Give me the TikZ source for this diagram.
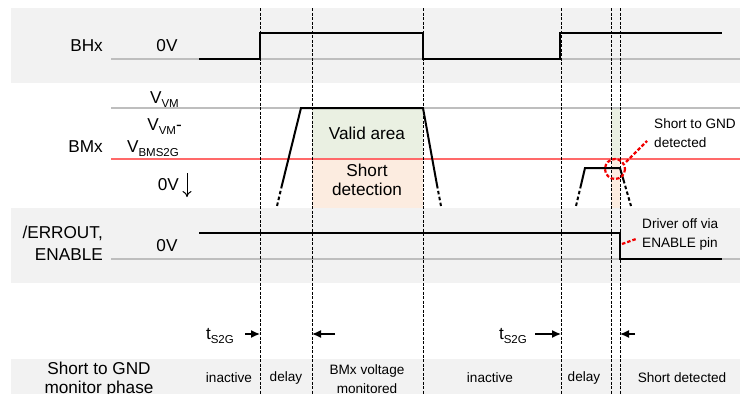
\documentclass[tikz,border=0pt]{standalone}
\usepackage{fontspec}
\setmainfont{Liberation Sans}
\usetikzlibrary{arrows.meta}
\definecolor{band}{RGB}{242,242,242}
\definecolor{gline}{RGB}{190,190,190}
\definecolor{rline}{RGB}{255,105,105}
\definecolor{validfill}{RGB}{234,240,226}
\definecolor{shortfill}{RGB}{252,236,224}
\definecolor{rdash}{RGB}{240,0,0}
\newcommand\mysub[1]{\raisebox{-0.28em}{\fontsize{11.5}{12}\selectfont #1}}
\begin{document}
\begin{tikzpicture}[x=1pt,y=-1pt,
 lbl/.style={font=\fontsize{17.2}{19}\selectfont, inner sep=0pt, align=center},
 sml/.style={font=\fontsize{13.6}{19}\selectfont, inner sep=0pt, align=center},
 wave/.style={line width=2pt, line join=miter},
 foot/.style={line width=2pt, dash pattern=on 3.5pt off 2.5pt},
 vdash/.style={line width=0.9pt, dash pattern=on 3pt off 1.5pt},
 baseln/.style={gline, line width=1.3pt},
 redd/.style={rdash, line width=2.2pt, dash pattern=on 3.5pt off 2pt},
 tarrow/.style={line width=1.3pt, -{Latex[length=9pt,width=8pt]}},
]
\useasboundingbox (0,0) rectangle (740,394);
% bands
\fill[band] (11,8) rectangle (740,83);
\fill[band] (11,208) rectangle (740,283);
\fill[band] (11,359) rectangle (740,394);
% areas
\fill[validfill] (312,108) rectangle (423,159);
\fill[shortfill] (312,159) rectangle (423,208);
\fill[validfill] (611,108) rectangle (620,159);
\fill[shortfill] (611,159) rectangle (620,208);
% reference lines
\draw[baseln] (111,59) -- (740,59);
\draw[baseln] (111,108) -- (740,108);
\draw[rline, line width=1.3pt] (111,159) -- (740,159);
\draw[baseln] (111,259) -- (740,259);
% area labels
\node[lbl] (valid) at (367,133) {Valid area};
\node[lbl] (short) at (367,180) {Short\\detection};
% BHx waveform
\draw[wave] (199,59) -- (260,59) -- (260,33) -- (423,33) -- (423,59) -- (560,59) -- (560,33) -- (722,33);
% BMx waveforms
\draw[wave] (282,185) -- (301,108) -- (423,108) -- (437,185);
\draw[foot] (282,185) -- (277,206);
\draw[foot] (437,185) -- (441,206);
\draw[wave] (581,185) -- (585,168) -- (620,168) -- (623.5,180);
\draw[foot] (581,185) -- (576,206);
\draw[foot] (623.5,180) -- (631,206);
% ERROUT waveform
\draw[wave] (199,233) -- (620,233) -- (620,259) -- (722,259);
% dashed verticals
\foreach \xx in {260,312,423,561,611,620}
  \draw[vdash] (\xx,8) -- (\xx,394);
% labels left
\node[lbl, anchor=east] (bhx) at (103,46) {BHx};
\node[lbl] (bhx0) at (167,46) {0V};
\node[lbl, anchor=east] (bmx) at (103,147) {BMx};
\node[lbl, anchor=base east] (vvm) at (179,103) {V\mysub{VM}};
\node[lbl, anchor=base east] (vvm2) at (182,130) {V\mysub{VM}-};
\node[lbl, anchor=base east] (vbms) at (179,152) {V\mysub{BMS2G}};
\node[lbl, anchor=east] (bmx0) at (179,185) {0V};
\draw[line width=1pt, -{To[length=6pt,width=9pt]}] (187,173) -- (187,197);
\node[lbl, anchor=east] (err1) at (103,233) {/ERROUT,};
\node[lbl, anchor=east] (err2) at (103,255) {ENABLE};
\node[lbl] (err0) at (167,246) {0V};
% annotations
\draw[redd] (615,169) circle (10);
\draw[redd] (626,162) -- (647,141);
\node[sml, anchor=west, align=left] (s2g) at (654,133) {Short to GND\\detected};
\draw[redd] (622,244) -- (636,239);
\node[sml, anchor=west, align=left] (drv) at (642,234) {Driver off via\\ENABLE pin};
% tS2G arrows
\node[lbl, anchor=base east] (t1) at (234,339) {t\mysub{S2G}};
\coordinate (a1s) at (245,334); \coordinate (a1e) at (260,334);
\draw[tarrow] (a1s) -- (a1e);
\coordinate (b1s) at (335,334); \coordinate (b1e) at (312,334);
\draw[tarrow] (b1s) -- (b1e);
\node[lbl, anchor=base east] (t2) at (527,339) {t\mysub{S2G}};
\coordinate (a2s) at (535,334); \coordinate (a2e) at (561,334);
\draw[tarrow] (a2s) -- (a2e);
\coordinate (b2s) at (635,334); \coordinate (b2e) at (620,334);
\draw[tarrow] (b2s) -- (b2e);
% phase row
\node[lbl] (phase) at (99,380) {Short to GND\\monitor phase};
\node[sml] (p1) at (229,378) {inactive};
\node[sml] (p2) at (286,378) {delay};
\node[sml] (p3) at (367,379) {BMx voltage\\monitored};
\node[sml] (p4) at (490,378) {inactive};
\node[sml] (p5) at (584,378) {delay};
\node[sml] (p6) at (682,378) {Short detected};
\end{tikzpicture}
\end{document}
